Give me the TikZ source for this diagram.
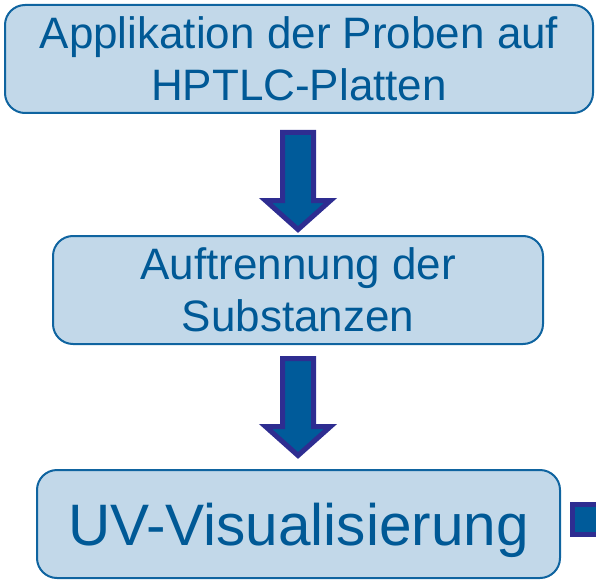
\documentclass[tikz,border=0pt]{standalone}
\usepackage{fontspec}
\setmainfont{Liberation Sans}
\usetikzlibrary{calc}
\definecolor{boxfill}{HTML}{C2D8E9}
\definecolor{boxline}{HTML}{0F64A0}
\definecolor{txtblue}{HTML}{005996}
\definecolor{arrfill}{HTML}{005B9A}
\definecolor{arrline}{HTML}{2E2D91}
\tikzset{
  stepbox/.style={draw=boxline, line width=2pt, fill=boxfill, rounded corners=20pt,
    text=txtblue, align=center, inner sep=0pt, font=\fontsize{44}{52}\selectfont},
  barrow/.style={draw=arrline, fill=arrfill, line width=5pt, line join=miter},
}
\begin{document}
\begin{tikzpicture}[x=1pt,y=-1pt]
\useasboundingbox (0,0) rectangle (596,580);
\node[stepbox, minimum width=588pt, minimum height=108pt] (b1) at (299,59)
  {Applikation der Proben auf\\HPTLC-Platten};
\node[stepbox, minimum width=490pt, minimum height=108pt] (b2) at (298,290)
  {Auftrennung der\\Substanzen};
\node[stepbox, minimum width=523pt, minimum height=108pt, text height=43pt, text depth=0pt,
  font=\fontsize{58.5}{64}\selectfont] (b3) at (298.5,524) {UV-Visualisierung};
% block arrows
\draw[barrow] ($(b1.south)+(-16.5,18.5)$) -- ++(31,0) -- ++(0,68) -- ++(17,0)
  -- ($(b1.south)+(-1,115.5)$) -- ++(-32.5,-29) -- ++(17,0) -- cycle;
\draw[barrow] ($(b2.south)+(-15.5,13.5)$) -- ++(31,0) -- ++(0,68) -- ++(17,0)
  -- ($(b2.south)+(0,110.5)$) -- ++(-32.5,-29) -- ++(17,0) -- cycle;
% partial square at right edge
\draw[barrow] ($(b3.east)+(11.5,-19.5)$) rectangle ++(40,30);
\end{tikzpicture}
\end{document}
